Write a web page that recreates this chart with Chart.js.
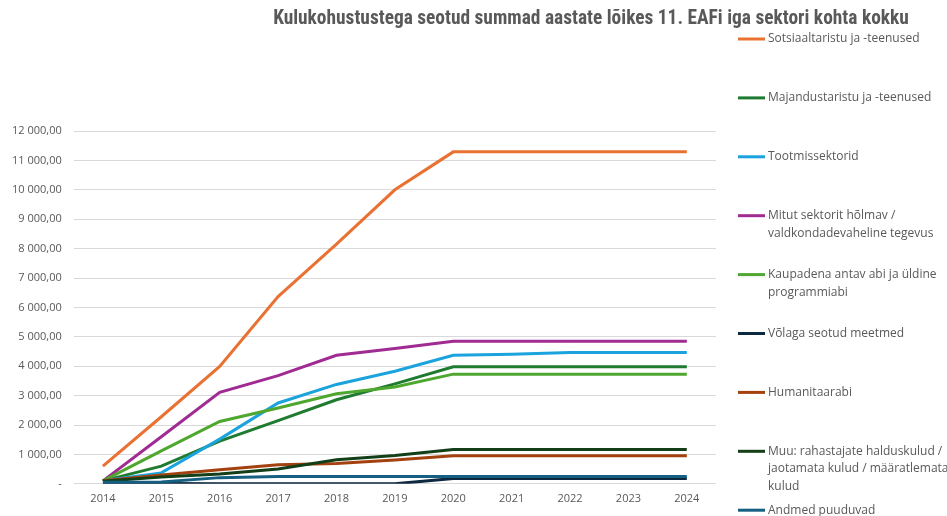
<!DOCTYPE html>
<html>
<head>
<meta charset="utf-8">
<script src="https://cdn.jsdelivr.net/npm/chart.js@4/dist/chart.umd.min.js"></script>
<style>
html,body{margin:0;padding:0;background:#fff;}
#wrap{position:relative;width:947px;height:516px;}
</style>
</head>
<body>
<div id="wrap"><canvas id="c" width="947" height="516"></canvas></div>
<script>
const titleText = "Kulukohustustega seotud summad aastate lõikes 11. EAFi iga sektori kohta kokku";
const years = ["2014","2015","2016","2017","2018","2019","2020","2021","2022","2023","2024"];
const yTicks = [0,1000,2000,3000,4000,5000,6000,7000,8000,9000,10000,11000,12000];

const seriesNames = [
  ["Sotsiaaltaristu ja -teenused"],
  ["Majandustaristu ja -teenused"],
  ["Tootmissektorid"],
  ["Mitut sektorit hõlmav /","valdkondadevaheline tegevus"],
  ["Kaupadena antav abi ja üldine","programmiabi"],
  ["Võlaga seotud meetmed"],
  ["Humanitaarabi"],
  ["Muu: rahastajate halduskulud /","jaotamata kulud / määratlemata","kulud"],
  ["Andmed puuduvad"]
];
const sotsiaal   = [600, 2280, 3990, 6370, 8150, 10000, 11290, 11290, 11290, 11290, 11290];
const majandus   = [100, 600, 1450, 2150, 2860, 3400, 3980, 3980, 3980, 3980, 3980];
const tootmis    = [100, 370, 1520, 2750, 3380, 3830, 4370, 4410, 4470, 4470, 4470];
const mitut      = [100, 1600, 3110, 3680, 4370, 4600, 4850, 4850, 4850, 4850, 4850];
const kaupadena  = [100, 1120, 2120, 2580, 3060, 3290, 3730, 3730, 3730, 3730, 3730];
const volaga     = [20, 10, 0, 0, 0, 0, 180, 180, 180, 180, 180];
const humanitaar = [100, 300, 480, 650, 690, 810, 950, 950, 950, 950, 950];
const muu        = [90, 230, 330, 500, 815, 960, 1170, 1170, 1170, 1170, 1170];
const andmed     = [55, 60, 210, 250, 250, 250, 250, 250, 250, 250, 250];

const seriesValues = [sotsiaal, majandus, tootmis, mitut, kaupadena, volaga, humanitaar, muu, andmed];
const colors = ["#E97132","#1E7B30","#1AA3DC","#A02B93","#4EA72E","#0E2841","#A3410F","#123F17","#156082"];

const datasets = seriesValues.map((vals, i) => ({
  label: seriesNames[i].join(" "),
  lines: seriesNames[i],
  data: vals,
  borderColor: colors[i],
  backgroundColor: colors[i],
  borderWidth: 3,
  pointRadius: 0,
  pointHoverRadius: 0,
  tension: 0,
  fill: false,
  order: 9 - i
}));

function fmt(v){
  if (v === 0) return "-";
  const s = Math.round(v).toString().replace(/\B(?=(\d{3})+(?!\d))/g, " ");
  return s + ",00";
}

const overlay = {
  id: "overlay",
  afterDraw(chart){
    const ctx = chart.ctx;
    ctx.save();
    ctx.fillStyle = "#595959";
    ctx.font = "bold 19.4px 'Liberation Sans Narrow', 'Roboto Condensed', Roboto, sans-serif";
    ctx.textAlign = "center";
    ctx.textBaseline = "middle";
    ctx.fillText(titleText, 591, 19);
    // legend
    ctx.font = "12px 'Open Sans', 'Noto Sans', sans-serif";
    ctx.textAlign = "left";
    const x0 = 738, x1 = 765, tx = 768, startY = 39, step = 58.9, lh = 17.5;
    chart.data.datasets.forEach((ds, i) => {
      const y = startY + i * step;
      ctx.strokeStyle = ds.borderColor;
      ctx.lineWidth = 3;
      ctx.beginPath();
      ctx.moveTo(x0, y);
      ctx.lineTo(x1, y);
      ctx.stroke();
      ctx.fillStyle = "#595959";
      ds.lines.forEach((t, k) => ctx.fillText(t, tx, y + k * lh));
    });
    ctx.restore();
  }
};

new Chart(document.getElementById("c"), {
  type: "line",
  data: { labels: years, datasets },
  options: {
    responsive: false,
    animation: false,
    events: [],
    layout: { padding: { left: 0, right: 231, top: 131, bottom: 3 } },
    plugins: { legend: { display: false }, title: { display: false }, tooltip: { enabled: false } },
    scales: {
      x: {
        offset: true,
        grid: { display: false, drawTicks: false },
        border: { display: false },
        ticks: { color: "#595959", font: { size: 11, family: "'Open Sans', 'Noto Sans', sans-serif" }, padding: 8, maxRotation: 0 }
      },
      y: {
        min: 0, max: 12000,
        afterBuildTicks(axis){ axis.ticks = yTicks.map(v => ({ value: v })); },
        grid: { color: "#D9D9D9", lineWidth: 1, drawTicks: false },
        border: { display: false },
        ticks: { color: "#595959", font: { size: 11, family: "'Open Sans', 'Noto Sans', sans-serif" }, padding: 12, callback: v => fmt(v) }
      }
    }
  },
  plugins: [overlay]
});
</script>
</body>
</html>
